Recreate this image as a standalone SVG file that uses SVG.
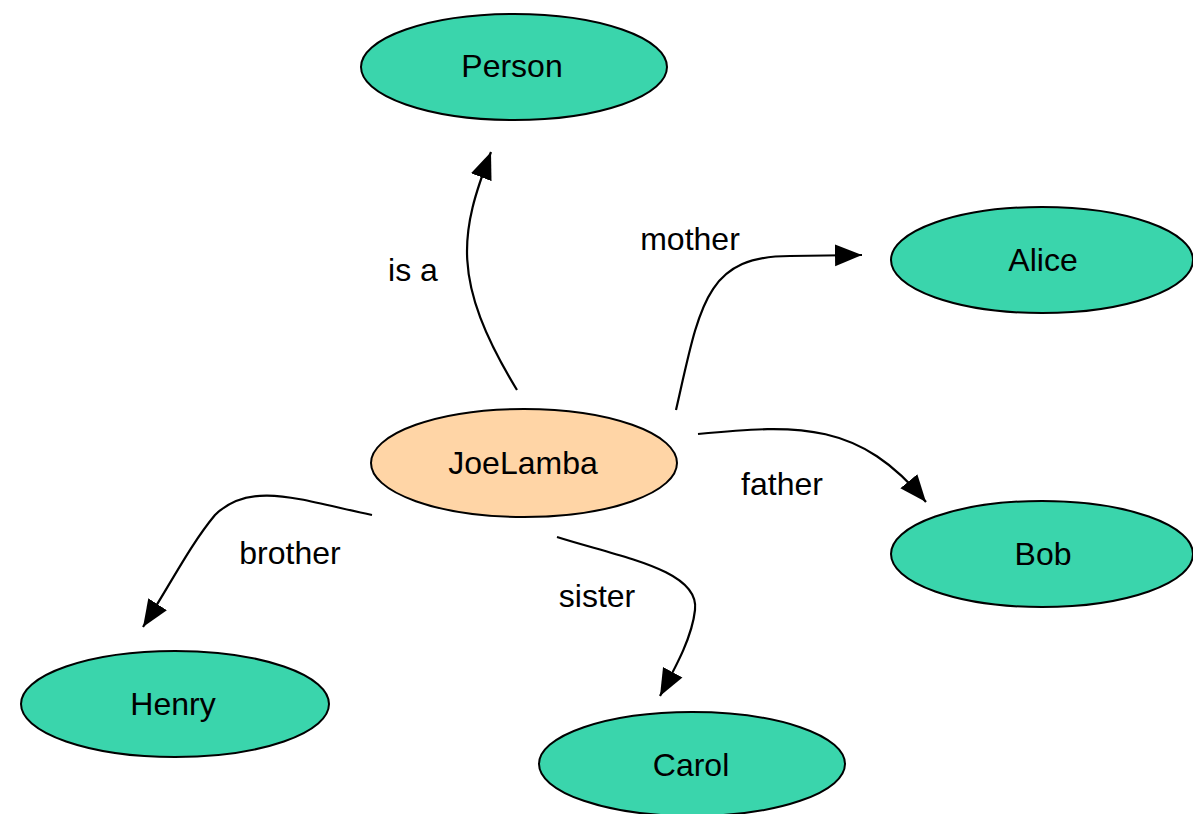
<svg xmlns="http://www.w3.org/2000/svg" width="1193" height="814" viewBox="0 0 1193 814">
<style>
.n{fill:#3AD5AC;stroke:#000;stroke-width:2}
.c{fill:#FFD5A6;stroke:#000;stroke-width:2}
.t{font-family:"Liberation Sans",Arial,sans-serif;font-size:32px;fill:#000;text-anchor:middle}
.e{fill:none;stroke:#000;stroke-width:2.2;marker-end:url(#a)}
</style>
<defs>
<marker id="a" markerUnits="userSpaceOnUse" markerWidth="28" markerHeight="24" refX="27" refY="12" orient="auto" viewBox="0 0 28 24">
<path d="M0,1 L27,12 L0,23 z" fill="#000"/>
</marker>
</defs>
<rect width="1193" height="814" fill="#fff"/>
<g id="connectors">
<path class="e" d="M517,390 C450,280 460,232 491,152"/>
<path class="e" d="M676,410 C700,305 705,256 790,256 L862,255"/>
<path class="e" d="M698,434 C800,424 860,422 926,502"/>
<path class="e" d="M372,515 C300,500 250,480 215,515 C190,545 170,585 143,627"/>
<path class="e" d="M557,537 C620,557 700,570 695,610 C692,638 675,668 660,696"/>
<text class="t" x="413" y="281">is a</text>
<text class="t" x="690" y="250">mother</text>
<text class="t" x="782" y="495">father</text>
<text class="t" x="290" y="564">brother</text>
<text class="t" x="597" y="607">sister</text>
</g>
<g id="Person"><ellipse class="n" cx="514" cy="67" rx="153" ry="53"/><text class="t" x="512" y="77">Person</text></g>
<g id="Alice"><ellipse class="n" cx="1042" cy="260" rx="151" ry="53"/><text class="t" x="1043" y="271">Alice</text></g>
<g id="Bob"><ellipse class="n" cx="1042" cy="554" rx="151" ry="53"/><text class="t" x="1043" y="565">Bob</text></g>
<g id="JoeLamba"><ellipse class="c" cx="524" cy="463" rx="153" ry="54"/><text class="t" x="523" y="474">JoeLamba</text></g>
<g id="Henry"><ellipse class="n" cx="175" cy="704" rx="154" ry="53"/><text class="t" x="173" y="715">Henry</text></g>
<g id="Carol"><ellipse class="n" cx="692" cy="764" rx="153" ry="52"/><text class="t" x="691" y="776">Carol</text></g>
</svg>
